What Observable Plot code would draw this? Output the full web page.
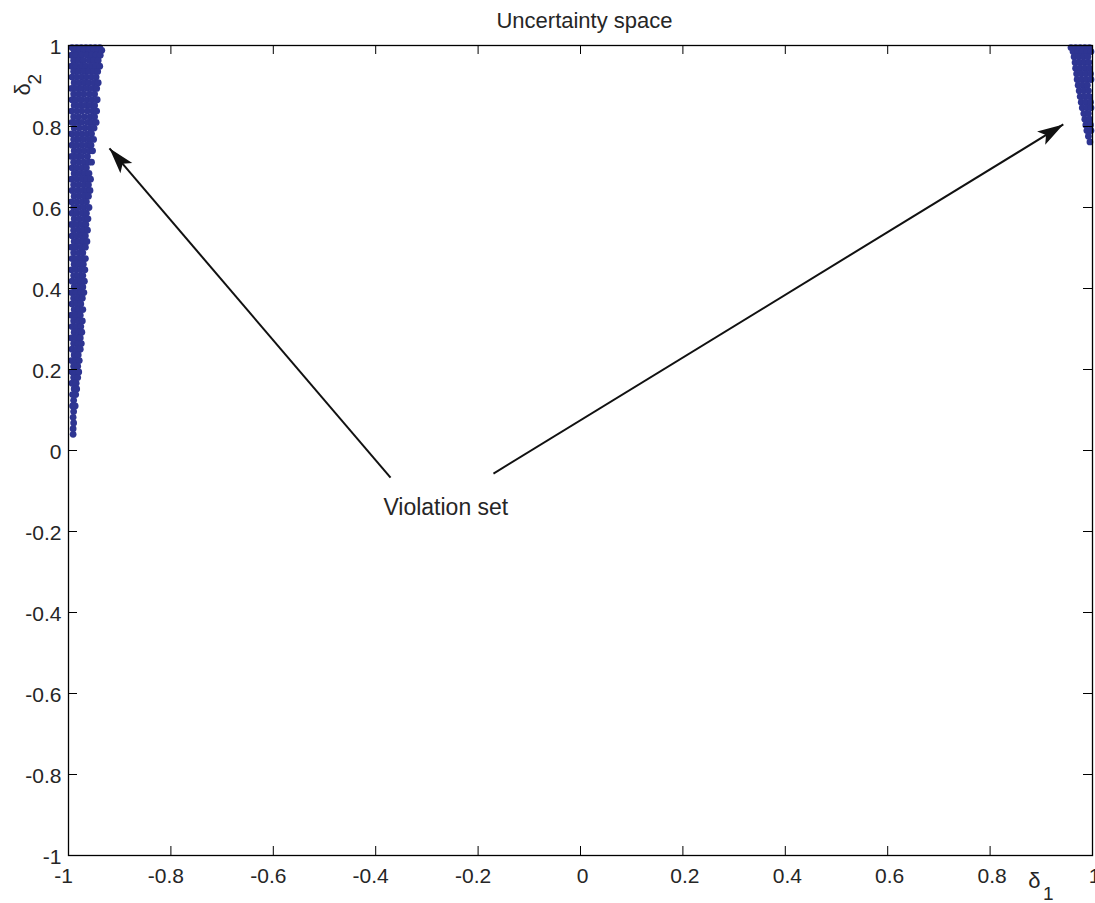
<!DOCTYPE html>
<html>
<head>
<meta charset="utf-8">
<script src="https://cdn.jsdelivr.net/npm/d3@7"></script>
<script src="https://cdn.jsdelivr.net/npm/@observablehq/plot@0.6"></script>
<style>
html, body { margin: 0; padding: 0; background: #fff; overflow: hidden; }
#chart svg { display: block; }
</style>
</head>
<body>
<div id="chart"></div>
<script>
// Tick values
const xTicks = [-1, -0.8, -0.6, -0.4, -0.2, 0, 0.2, 0.4, 0.6, 0.8, 1];
const yTicks = [-1, -0.8, -0.6, -0.4, -0.2, 0, 0.2, 0.4, 0.6, 0.8, 1];

// Violation set, left cluster: rows of [delta2, [delta1 values]]
const leftCluster = [
  [0.995, [-0.993,-0.984,-0.975,-0.966,-0.957,-0.948,-0.939]],
  [0.988, [-0.989,-0.979,-0.970,-0.961,-0.951,-0.942,-0.935]],
  [0.976, [-0.994,-0.985,-0.975,-0.964,-0.955,-0.946,-0.938]],
  [0.963, [-0.990,-0.980,-0.971,-0.960,-0.951,-0.942]],
  [0.949, [-0.994,-0.985,-0.975,-0.966,-0.956,-0.947,-0.939]],
  [0.936, [-0.990,-0.980,-0.970,-0.961,-0.951,-0.943]],
  [0.922, [-0.993,-0.984,-0.974,-0.965,-0.955,-0.946]],
  [0.908, [-0.989,-0.979,-0.969,-0.960,-0.950,-0.942]],
  [0.894, [-0.994,-0.984,-0.974,-0.964,-0.954,-0.945]],
  [0.880, [-0.990,-0.980,-0.970,-0.959,-0.949]],
  [0.866, [-0.993,-0.985,-0.975,-0.964,-0.954,-0.944]],
  [0.852, [-0.989,-0.979,-0.969,-0.959,-0.949]],
  [0.838, [-0.994,-0.984,-0.974,-0.963,-0.953,-0.945]],
  [0.824, [-0.990,-0.980,-0.969,-0.958,-0.949]],
  [0.810, [-0.993,-0.984,-0.974,-0.963,-0.954,-0.946]],
  [0.796, [-0.989,-0.979,-0.968,-0.958,-0.950]],
  [0.782, [-0.994,-0.984,-0.974,-0.964,-0.955]],
  [0.768, [-0.990,-0.980,-0.970,-0.960,-0.951]],
  [0.754, [-0.993,-0.984,-0.974,-0.964,-0.956]],
  [0.740, [-0.989,-0.979,-0.969,-0.959,-0.953]],
  [0.726, [-0.994,-0.984,-0.974,-0.963]],
  [0.712, [-0.990,-0.980,-0.970,-0.961,-0.955]],
  [0.698, [-0.993,-0.984,-0.974,-0.965]],
  [0.684, [-0.989,-0.979,-0.969,-0.960]],
  [0.670, [-0.994,-0.984,-0.974,-0.965,-0.957]],
  [0.656, [-0.990,-0.980,-0.970,-0.961]],
  [0.642, [-0.993,-0.983,-0.973,-0.964,-0.958]],
  [0.628, [-0.989,-0.979,-0.969,-0.961]],
  [0.614, [-0.994,-0.984,-0.974,-0.965]],
  [0.600, [-0.990,-0.980,-0.970,-0.960]],
  [0.586, [-0.993,-0.984,-0.974,-0.965]],
  [0.572, [-0.989,-0.979,-0.969,-0.962]],
  [0.558, [-0.994,-0.984,-0.974,-0.966]],
  [0.544, [-0.990,-0.980,-0.971,-0.963]],
  [0.530, [-0.993,-0.984,-0.975,-0.967]],
  [0.516, [-0.989,-0.980,-0.971,-0.964]],
  [0.502, [-0.994,-0.985,-0.975,-0.967]],
  [0.488, [-0.990,-0.980,-0.972]],
  [0.474, [-0.993,-0.984,-0.975,-0.967]],
  [0.460, [-0.989,-0.980,-0.971]],
  [0.446, [-0.994,-0.985,-0.976,-0.968]],
  [0.432, [-0.990,-0.981,-0.972]],
  [0.418, [-0.993,-0.984,-0.976,-0.969]],
  [0.404, [-0.989,-0.980,-0.972]],
  [0.390, [-0.994,-0.985,-0.976,-0.970]],
  [0.376, [-0.990,-0.981,-0.973]],
  [0.362, [-0.993,-0.984,-0.976]],
  [0.348, [-0.989,-0.980,-0.972]],
  [0.334, [-0.994,-0.985,-0.977]],
  [0.320, [-0.990,-0.981,-0.973]],
  [0.306, [-0.993,-0.984,-0.976]],
  [0.292, [-0.989,-0.980,-0.974]],
  [0.278, [-0.994,-0.985,-0.977]],
  [0.264, [-0.990,-0.981,-0.975]],
  [0.250, [-0.993,-0.984,-0.977]],
  [0.236, [-0.989,-0.981]],
  [0.222, [-0.994,-0.985,-0.979]],
  [0.208, [-0.990,-0.982]],
  [0.194, [-0.993,-0.985,-0.980]],
  [0.180, [-0.990,-0.982]],
  [0.166, [-0.993,-0.985]],
  [0.152, [-0.989,-0.984]],
  [0.138, [-0.992,-0.986]],
  [0.124, [-0.990]],
  [0.110, [-0.992,-0.987]],
  [0.096, [-0.990]],
  [0.082, [-0.991]],
  [0.068, [-0.990]],
  [0.054, [-0.991]],
  [0.040, [-0.991]]
];

// Violation set, right cluster: rows of [delta2, [delta1 values]]
const rightCluster = [
  [0.995, [0.958, 0.967, 0.976, 0.985, 0.994]],
  [0.985, [0.962, 0.971, 0.980, 0.989, 0.997]],
  [0.972, [0.964, 0.973, 0.982, 0.991]],
  [0.958, [0.966, 0.975, 0.984, 0.993]],
  [0.944, [0.967, 0.976, 0.985, 0.994]],
  [0.930, [0.969, 0.978, 0.987, 0.996]],
  [0.916, [0.970, 0.979, 0.988, 0.997]],
  [0.902, [0.972, 0.981, 0.990]],
  [0.888, [0.974, 0.983, 0.992]],
  [0.874, [0.976, 0.985, 0.994]],
  [0.860, [0.978, 0.987, 0.996]],
  [0.846, [0.980, 0.989, 0.997]],
  [0.832, [0.983, 0.992]],
  [0.818, [0.985, 0.994]],
  [0.804, [0.987, 0.996]],
  [0.790, [0.989, 0.997]],
  [0.776, [0.992]],
  [0.762, [0.995]]
];

// Annotation arrows (from label to cluster)
const arrowFromX = [-0.371, -0.170];
const arrowFromY = [-0.067, -0.057];
const arrowToX = [-0.920, 0.943];
const arrowToY = [0.746, 0.805];
const annotationText = "Violation set";
const annotationX = -0.385;
const annotationY = -0.141;

const titleText = "Uncertainty space";

// Layout
const W = 1095, H = 903;
const mL = 68, mR = 3, mT = 45, mB = 48;
const FW = W - mL - mR, FH = H - mT - mB;
const TL = 9; // tick length
const kx = FW / 2, ky = FH / 2;

const points = [];
for (const [y, xs] of leftCluster) for (const x of xs) points.push({x, y});
for (const [y, xs] of rightCluster) for (const x of xs) points.push({x, y});

const arrows = arrowFromX.map((_, i) => {
  const x1 = arrowFromX[i], y1 = arrowFromY[i], x2 = arrowToX[i], y2 = arrowToY[i];
  const angle = Math.atan2((x2 - x1) * kx, (y2 - y1) * ky) * 180 / Math.PI;
  return {x1, y1, x2, y2, angle};
});

const arrowHead = {
  draw(ctx, size) {
    const L = Math.sqrt(size / Math.PI);
    const w = L * 0.3;
    ctx.moveTo(0, 0);
    ctx.lineTo(w, L);
    ctx.lineTo(0, L * 0.78);
    ctx.lineTo(-w, L);
    ctx.closePath();
  }
};

const font = "'Liberation Sans', Arial, Helvetica, sans-serif";
const txt = "#262626";

const chart = Plot.plot({
  width: W,
  height: H,
  marginLeft: mL,
  marginRight: mR,
  marginTop: mT,
  marginBottom: mB,
  style: {fontFamily: font, background: "#fff", color: txt},
  x: {domain: [-1, 1], axis: null},
  y: {domain: [-1, 1], axis: null},
  marks: [
    Plot.dot(points, {x: "x", y: "y", r: 3.4, fill: "#2e3592"}),
    // ticks (inward, all four sides)
    Plot.tickX(xTicks, {x: d => d, insetTop: FH - TL, stroke: "#000", strokeWidth: 1}),
    Plot.tickX(xTicks, {x: d => d, insetBottom: FH - TL, stroke: "#000", strokeWidth: 1}),
    Plot.tickY(yTicks, {y: d => d, insetRight: FW - TL, stroke: "#000", strokeWidth: 1}),
    Plot.tickY(yTicks, {y: d => d, insetLeft: FW - TL, stroke: "#000", strokeWidth: 1}),
    Plot.frame({stroke: "#000", strokeWidth: 1.3}),
    // tick labels
    Plot.text(xTicks.filter(d => d < 0), {x: d => d, text: d => String(d), frameAnchor: "bottom", dy: 21, dx: -5, fontSize: 21, lineAnchor: "middle", fill: txt}),
    Plot.text(xTicks.filter(d => d >= 0), {x: d => d, text: d => String(d), frameAnchor: "bottom", dy: 21, dx: 2, fontSize: 21, lineAnchor: "middle", fill: txt}),
    Plot.text(yTicks, {y: d => d, text: d => String(d), frameAnchor: "left", textAnchor: "end", dx: -7, dy: 2, fontSize: 21, lineAnchor: "middle", fill: txt}),
    // axis labels
    Plot.text(["δ"], {frameAnchor: "bottom-right", dx: -52, dy: 25, fontSize: 22, lineAnchor: "middle", fill: txt}),
    Plot.text(["1"], {frameAnchor: "bottom-right", dx: -39, dy: 38, fontSize: 19, lineAnchor: "middle", fill: txt}),
    Plot.text(["δ"], {frameAnchor: "top-left", dx: -46, dy: 50, rotate: -90, fontSize: 22, lineAnchor: "middle", fill: txt}),
    Plot.text(["2"], {frameAnchor: "top-left", dx: -34, dy: 39, rotate: -90, fontSize: 19, lineAnchor: "middle", fill: txt}),
    // title
    Plot.text([titleText], {frameAnchor: "top", dx: 4, dy: -25, fontSize: 22, lineAnchor: "middle", fill: txt}),
    // annotation
    Plot.link(arrows, {x1: "x1", y1: "y1", x2: "x2", y2: "y2", stroke: "#111", strokeWidth: 2}),
    Plot.dot(arrows, {x: "x2", y: "y2", symbol: arrowHead, r: 26, rotate: "angle", fill: "#111"}),
    Plot.text([annotationText], {x: () => annotationX, y: () => annotationY, textAnchor: "start", fontSize: 23, lineAnchor: "middle", fill: txt})
  ]
});

document.getElementById("chart").appendChild(chart);
</script>
</body>
</html>
